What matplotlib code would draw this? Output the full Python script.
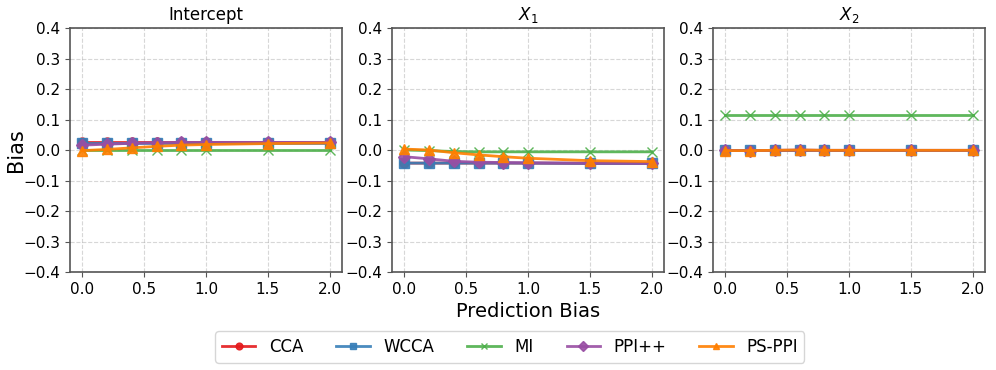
import matplotlib
matplotlib.use("Agg")
import matplotlib.pyplot as plt
import numpy as np

x_vals = [0.0, 0.2, 0.4, 0.6, 0.8, 1.0, 1.5, 2.0]
panels = ["Intercept", "$X_1$", "$X_2$"]
methods = ["CCA", "WCCA", "MI", "PPI++", "PS-PPI"]
colors = ["#e41a1c", "#377eb8", "#4daf4a", "#984ea3", "#ff7f00"]
markers = ["o", "s", "x", "D", "^"]

intercept_cca = [0.025, 0.025, 0.025, 0.025, 0.025, 0.025, 0.025, 0.025]
intercept_wcca = [0.024, 0.024, 0.024, 0.024, 0.024, 0.024, 0.024, 0.024]
intercept_mi = [0.0, 0.0, 0.0, 0.0, 0.0, 0.0, 0.0, 0.0]
intercept_ppi = [0.016, 0.019, 0.022, 0.024, 0.025, 0.025, 0.025, 0.025]
intercept_psppi = [-0.002, 0.002, 0.007, 0.012, 0.016, 0.018, 0.021, 0.023]

x1_cca = [-0.043, -0.043, -0.043, -0.043, -0.043, -0.043, -0.044, -0.044]
x1_wcca = [-0.043, -0.043, -0.043, -0.043, -0.043, -0.043, -0.044, -0.044]
x1_mi = [0.0, -0.002, -0.005, -0.006, -0.006, -0.006, -0.006, -0.006]
x1_ppi = [-0.022, -0.029, -0.037, -0.040, -0.041, -0.042, -0.043, -0.044]
x1_psppi = [0.003, 0.0, -0.009, -0.016, -0.022, -0.027, -0.035, -0.038]

x2_cca = [-0.001, -0.001, -0.001, -0.001, -0.001, -0.001, -0.001, -0.001]
x2_wcca = [-0.001, -0.001, -0.001, -0.001, -0.001, -0.001, -0.001, -0.001]
x2_mi = [0.115, 0.115, 0.115, 0.115, 0.115, 0.115, 0.115, 0.115]
x2_ppi = [-0.001, -0.002, -0.001, 0.0, -0.001, -0.001, -0.001, -0.001]
x2_psppi = [-0.002, -0.002, -0.001, 0.0, -0.001, -0.001, -0.001, -0.001]

data = [
    [intercept_cca, intercept_wcca, intercept_mi, intercept_ppi, intercept_psppi],
    [x1_cca, x1_wcca, x1_mi, x1_ppi, x1_psppi],
    [x2_cca, x2_wcca, x2_mi, x2_ppi, x2_psppi],
]

fig = plt.figure(figsize=(9.96, 3.7), dpi=100)
lefts = [70, 392, 713]
W, H = 996, 370
axes = []
for i, l in enumerate(lefts):
    ax = fig.add_axes([l / W, 1 - 272 / H, 272 / W, (272 - 28) / H])
    axes.append(ax)
    for j, m in enumerate(methods):
        ax.plot(x_vals, data[i][j], color=colors[j], marker=markers[j], lw=2,
                ms=6.5, label=m, alpha=0.9)
    ax.set_ylim(-0.4, 0.4)
    ax.set_yticks(np.arange(-0.4, 0.41, 0.1))
    ax.set_xticks([0.0, 0.5, 1.0, 1.5, 2.0])
    ax.set_xlim(-0.1, 2.1)
    ax.grid(True, linestyle="--", alpha=0.5)
    ax.set_title(panels[i], fontsize=12)
    ax.tick_params(labelsize=11, color="#555555")
    for s in ax.spines.values():
        s.set_color("#555555")
        s.set_linewidth(1.2)

axes[0].set_ylabel("Bias", fontsize=15)
axes[0].yaxis.set_label_coords(-0.16, 0.5)
axes[1].set_xlabel("Prediction Bias", fontsize=14)
handles, labels = axes[0].get_legend_handles_labels()
fig.legend(handles, labels, loc="center", ncol=5, fontsize=12, markerscale=0.75,
           bbox_to_anchor=(0.512, 1 - 347 / H), columnspacing=2.0)
fig.savefig("out.png", dpi=100)
